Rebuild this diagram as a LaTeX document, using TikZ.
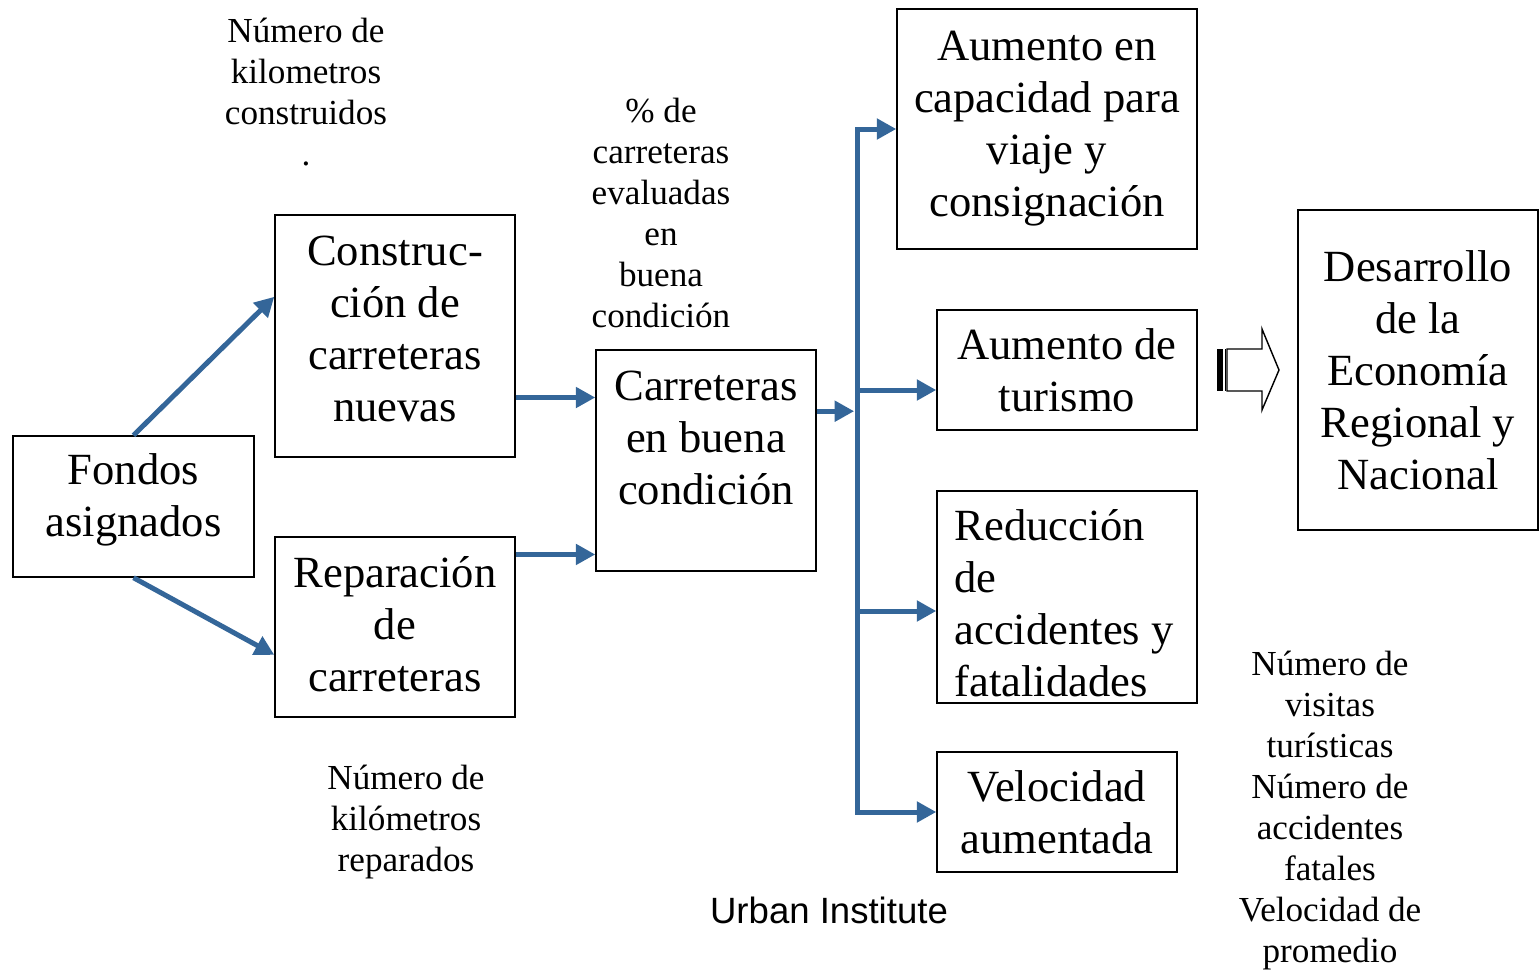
\documentclass[tikz,border=0pt]{standalone}
\usepackage{fontspec}
\setmainfont{Liberation Serif}
\newfontfamily\arialfont{Liberation Sans}
\usetikzlibrary{arrows.meta}
\definecolor{flowblue}{RGB}{52,102,153}

\begin{document}
\begin{tikzpicture}[x=0.35pt,y=-0.35pt,
  box/.style={draw,line width=0.5pt,inner sep=1pt,align=center,font=\fontsize{15.6pt}{18.2pt}\selectfont},
  note/.style={align=center,inner sep=0pt,font=\fontsize{12.3pt}{14.35pt}\selectfont},
  flow/.style={flowblue,line width=1.75pt,-{Triangle[length=6.8pt,width=7pt]}}]
\useasboundingbox (0,0) rectangle (1540,970);

% cajas
\node[box,minimum width=84.35pt,minimum height=49.35pt] (fon) at (133.5,506.5) {};
\node[box,draw=none] (font) at (133.5,500) {Fondos\\asignados};
\node[box,minimum width=84pt,minimum height=84.7pt] (con) at (395,336) {};
\node[box,draw=none] (cont) at (395,329) {Construc-\\ción de\\carreteras\\nuevas};
\node[box,minimum width=84pt,minimum height=63pt] (rep) at (395,627) {};
\node[box,draw=none] (rept) at (395,624) {Reparación\\de\\carreteras};
\node[box,minimum width=77pt,minimum height=77.35pt] (cbc) at (706,460.5) {};
\node[box,draw=none] (cbct) at (706,438) {Carreteras\\en buena\\condición};
\node[box,minimum width=105pt,minimum height=84pt] (cap) at (1047,129) {Aumento en\\capacidad para\\viaje y\\consignación};
\node[box,minimum width=91pt,minimum height=42pt] (tur) at (1067,370) {Aumento de\\turismo};
\node[box,minimum width=91pt,minimum height=74.2pt] (red) at (1067,597) {};
\node[box,draw=none,align=left] (redt) at (1064,603) {Reducción\\de\\accidentes y\\fatalidades};
\node[box,minimum width=84pt,minimum height=42pt] (vel) at (1057,812) {Velocidad\\aumentada};
\node[box,minimum width=84pt,minimum height=112pt] (des) at (1418,370) {Desarrollo\\de la\\Economía\\Regional y\\Nacional};

% indicadores
\node[note] (ind1) at (306,92) {Número de\\kilometros\\construidos\\.};
\node[note] (ind2) at (661,213) {\% de\\carreteras\\evaluadas\\en\\buena\\condición};
\node[note] (ind3) at (406,822) {Número de\\kilómetros\\reparados};
\node[note] (ind4) at (1330,811) {Número de\\visitas\\turísticas\\Número de\\accidentes\\fatales\\Velocidad de\\promedio};
\node[font=\arialfont\fontsize{12.8pt}{15pt}\selectfont,inner sep=0pt] (src) at (829,910) {Urban Institute};

% flechas
\draw[flow] (fon.north) -- (con.162);
\draw[flow] (fon.south) -- (rep.193);
\draw[flow] (con.-27) -- (cbc.west |- con.-27);
\draw[flow] (rep.31) -- (cbc.west |- rep.31);
\coordinate (ttop) at (857,128);
\coordinate (tbot) at (857,812);
\coordinate (j2) at (857,390);
\coordinate (j3) at (857,611);
\draw[flow,shorten >=1pt] (cbc.24) -- (cbc.24 -| ttop);
\draw[flow] (ttop) |- (vel.west);
\draw[flow] (tbot) |- (cap.west);
\draw[flow] (j2) -- (tur.west |- j2);
\draw[flow] (j3) -- (red.west |- j3);

% flecha ancha
\fill (1217,349) rectangle (1223,391);
\draw[line width=0.5pt] (1225.5,349) -- (1225.5,391);
\draw[line width=0.5pt] (1227,349) -- (1262,349) -- (1262,329) -- (1279,370)
  -- (1262,410) -- (1262,391) -- (1227,391) -- cycle;
\end{tikzpicture}
\end{document}
